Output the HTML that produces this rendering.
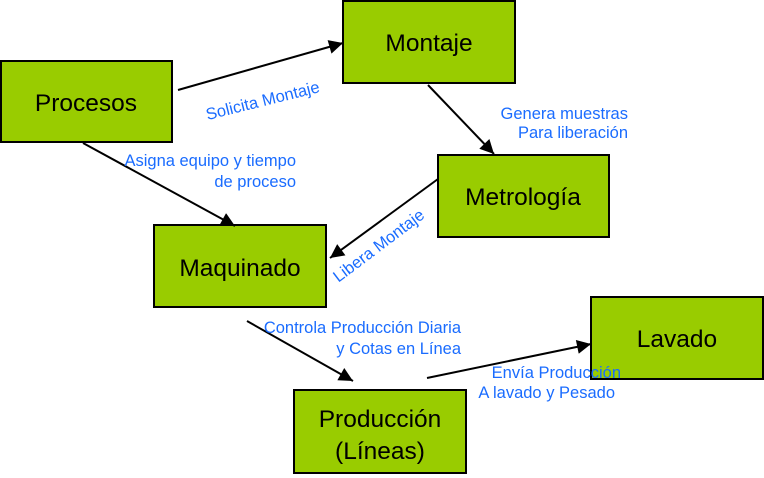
<!DOCTYPE html>
<html><head><meta charset="utf-8"><style>
html,body{margin:0;padding:0;background:#fff;width:764px;height:478px;overflow:hidden}
svg{display:block}
.b{fill:#99cc00;stroke:#000;stroke-width:2}
.t{font-family:"Liberation Sans",sans-serif;font-size:24.5px;fill:#000;text-anchor:middle}
.l{font-family:"Liberation Sans",sans-serif;font-size:16.5px;fill:#1a6cff}
.a{stroke:#000;stroke-width:2;fill:none;marker-end:url(#ar2)}
</style></head><body>
<svg width="764" height="478" viewBox="0 0 764 478" xmlns="http://www.w3.org/2000/svg">
<defs>
<marker id="ar2" viewBox="0 0 10 10" markerWidth="18" markerHeight="14" refX="10" refY="5" orient="auto" markerUnits="userSpaceOnUse"><path d="M0,0 L10,5 L0,10 z" fill="#000"/></marker></defs>
<rect class="b" x="1" y="61" width="171" height="81"/>
<text class="t" x="86" y="111">Procesos</text>
<rect class="b" x="343" y="1" width="172" height="82"/>
<text class="t" x="429" y="51">Montaje</text>
<rect class="b" x="438" y="155" width="171" height="82"/>
<text class="t" x="523" y="205">Metrología</text>
<rect class="b" x="154" y="225" width="172" height="82"/>
<text class="t" x="240" y="276">Maquinado</text>
<rect class="b" x="591" y="297" width="172" height="82"/>
<text class="t" x="677" y="347">Lavado</text>
<rect class="b" x="294" y="390" width="172" height="83"/>
<text class="t" x="380" y="427">Producción</text>
<text class="t" x="380" y="459">(Líneas)</text>
<line class="a" x1="178" y1="90" x2="343" y2="43"/>
<line class="a" x1="83" y1="143" x2="235" y2="226"/>
<line class="a" x1="428" y1="85" x2="494" y2="154"/>
<line class="a" x1="438" y1="179" x2="330" y2="258"/>
<line class="a" x1="247" y1="321" x2="353" y2="381"/>
<line class="a" x1="427" y1="378" x2="591" y2="344"/>
<text class="l" transform="translate(264,106) rotate(-14)" text-anchor="middle">Solicita Montaje</text>
<text class="l" x="628" y="119" text-anchor="end">Genera muestras</text>
<text class="l" x="628" y="138" text-anchor="end">Para liberación</text>
<text class="l" x="296" y="166" text-anchor="end">Asigna equipo y tiempo</text>
<text class="l" x="296" y="187" text-anchor="end">de proceso</text>
<text class="l" transform="translate(382,250) rotate(-37)" text-anchor="middle">Libera Montaje</text>
<text class="l" x="461" y="333" text-anchor="end">Controla Producción Diaria</text>
<text class="l" x="461" y="354" text-anchor="end">y Cotas en Línea</text>
<text class="l" x="621" y="378" text-anchor="end">Envía Producción</text>
<text class="l" x="615" y="398" text-anchor="end">A lavado y Pesado</text>
</svg>
</body></html>
